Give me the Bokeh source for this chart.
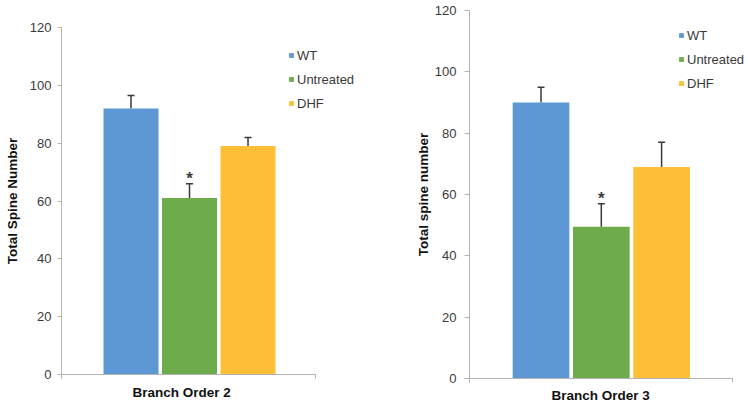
from bokeh.plotting import figure
from bokeh.models import ColumnDataSource, Range1d, FixedTicker, Whisker, TeeHead, Title
from bokeh.layouts import row, column
from bokeh.embed import file_html
from bokeh.resources import INLINE
from bokeh.core.properties import value

groups = ["WT", "Untreated", "DHF"]
colors = ["#5b98d4", "#6dac4c", "#fcbf36"]
order2_means = [92, 61, 79]
order2_err = [4.5, 5, 3]
order3_means = [90, 49.5, 69]
order3_err = [5, 7.5, 8]
y_ticks = [0, 20, 40, 60, 80, 100, 120]
significant = ["Untreated"]

FONT = "Liberation Sans"
AXIS_COL = "#b3b3b3"
TEXT_COL = "#3a3a3a"
HEIGHT = 405


def make_panel(means, errs, xlabel, ylabel, width, borders, legend_xy, xr, xbounds,
               tick_out, label_standoff, ylabel_standoff, xlabel_offset, xlabel_standoff):
    pos = list(range(len(groups)))
    src = ColumnDataSource(dict(
        x=pos, g=groups, m=means, up=[m + e for m, e in zip(means, errs)], c=colors))
    p = figure(width=width, height=HEIGHT, output_backend="svg", toolbar_location=None,
               x_range=Range1d(*xr), y_range=Range1d(0, 120),
               min_border_left=borders[0], min_border_right=borders[1],
               min_border_top=borders[2], min_border_bottom=borders[3])
    p.outline_line_color = None
    p.grid.grid_line_color = None

    p.vbar(x="x", top="m", width=0.94, source=src, fill_color="c", line_color=None,
           legend_field="g")
    w = Whisker(base="x", lower="m", upper="up", source=src, dimension="height",
                line_color=TEXT_COL, line_width=1.5,
                upper_head=TeeHead(size=7, line_color=TEXT_COL, line_width=1.5),
                lower_head=None)
    p.add_layout(w)

    star_idx = [groups.index(s) for s in significant]
    star_src = ColumnDataSource(dict(x=[pos[i] for i in star_idx],
                                     y=[means[i] + errs[i] for i in star_idx],
                                     t=["*"] * len(star_idx)))
    p.text(x="x", y="y", text="t", source=star_src, text_align="center",
           text_baseline="alphabetic", y_offset=-5, text_font=value(FONT),
           text_font_style="bold", text_font_size="17px", text_color=TEXT_COL)

    # y axis
    ya = p.yaxis[0]
    ya.ticker = FixedTicker(ticks=y_ticks)
    ya.minor_tick_line_color = None
    ya.major_tick_in = 0
    ya.major_tick_out = tick_out
    ya.axis_line_color = AXIS_COL
    ya.major_tick_line_color = AXIS_COL
    ya.major_label_standoff = label_standoff
    ya.major_label_text_font = FONT
    ya.major_label_text_font_size = "13px"
    ya.major_label_text_color = TEXT_COL
    ya.axis_label = ylabel
    ya.axis_label_text_font = FONT
    ya.axis_label_text_font_style = "bold"
    ya.axis_label_text_font_size = "13.5px"
    ya.axis_label_text_color = "#111111"
    ya.axis_label_standoff = ylabel_standoff

    # x axis: plain line with small end ticks, no tick labels
    xa = p.xaxis[0]
    xa.bounds = xbounds
    xa.ticker = FixedTicker(ticks=list(xbounds))
    xa.axis_line_color = AXIS_COL
    xa.major_tick_line_color = AXIS_COL
    xa.minor_tick_line_color = None
    xa.major_tick_out = 4
    xa.major_tick_in = 0
    xa.major_label_text_font_size = "1px"
    xa.major_label_text_color = None
    xa.major_label_standoff = 0

    t = Title(text=xlabel, align="left", offset=xlabel_offset, standoff=xlabel_standoff,
              text_font=FONT, text_font_style="bold", text_font_size="13.5px",
              text_color="#111111")
    p.add_layout(t, "below")

    lg = p.legend[0]
    lg.location = legend_xy
    lg.background_fill_alpha = 0
    lg.border_line_color = None
    lg.padding = 0
    lg.margin = 0
    lg.spacing = 6
    lg.glyph_width = 6
    lg.glyph_height = 6
    lg.label_height = 18
    lg.label_standoff = 3
    lg.label_text_font = FONT
    lg.label_text_font_size = "13px"
    lg.label_text_color = TEXT_COL
    return p


p1 = make_panel(order2_means, order2_err, "Branch Order 2", "Total Spine Number",
                374, (61, 0, 27, 31), (227, 262), (-1.188, 4.162), (-1.188, 3.154),
                4, 6, 7, 71, 8)
p2 = make_panel(order3_means, order3_err, "Branch Order 3", "Total spine number",
                372, (95, 0, 10, 27), (209, 286), (-1.186, 3.408), (-1.186, 3.175),
                5, 8, 1, 82, 6)

layout = row(column(p1), column(p2))
open("out.html", "w").write(file_html(layout, INLINE))
